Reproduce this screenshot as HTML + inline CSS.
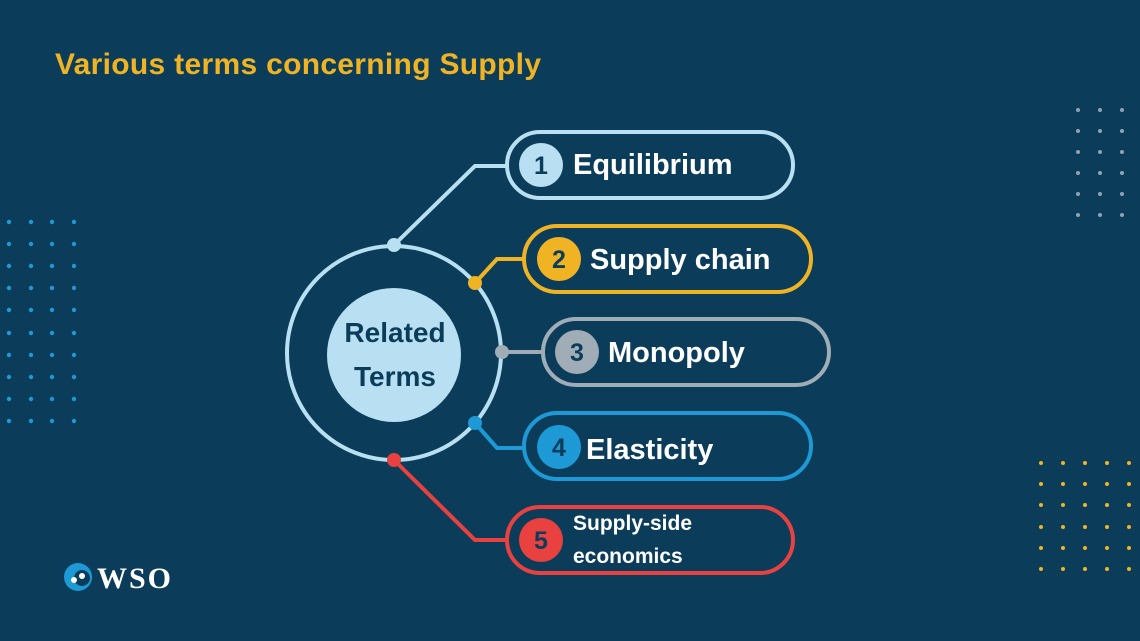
<!DOCTYPE html>
<html><head><meta charset="utf-8"><style>
html,body{margin:0;padding:0;}
body{width:1140px;height:641px;background:#0b3d5a;overflow:hidden;position:relative;font-family:"Liberation Sans",sans-serif;}
</style></head><body>
<svg width="1140" height="641" viewBox="0 0 1140 641" xmlns="http://www.w3.org/2000/svg" style="position:absolute;left:0;top:0">
<rect width="1140" height="641" fill="#0b3d5a"/>
<text x="55" y="74" font-family="Liberation Sans, sans-serif" font-weight="bold" font-size="30" fill="#f0b323" textLength="486">Various terms concerning Supply</text>
<!-- left dots -->
<g fill="#1d9ad6">
<circle cx="9" cy="222" r="2.2"/><circle cx="31" cy="222" r="2.2"/><circle cx="52" cy="222" r="2.2"/><circle cx="74" cy="222" r="2.2"/>
<circle cx="9" cy="244" r="2.2"/><circle cx="31" cy="244" r="2.2"/><circle cx="52" cy="244" r="2.2"/><circle cx="74" cy="244" r="2.2"/>
<circle cx="9" cy="266" r="2.2"/><circle cx="31" cy="266" r="2.2"/><circle cx="52" cy="266" r="2.2"/><circle cx="74" cy="266" r="2.2"/>
<circle cx="9" cy="288" r="2.2"/><circle cx="31" cy="288" r="2.2"/><circle cx="52" cy="288" r="2.2"/><circle cx="74" cy="288" r="2.2"/>
<circle cx="9" cy="310" r="2.2"/><circle cx="31" cy="310" r="2.2"/><circle cx="52" cy="310" r="2.2"/><circle cx="74" cy="310" r="2.2"/>
<circle cx="9" cy="333" r="2.2"/><circle cx="31" cy="333" r="2.2"/><circle cx="52" cy="333" r="2.2"/><circle cx="74" cy="333" r="2.2"/>
<circle cx="9" cy="355" r="2.2"/><circle cx="31" cy="355" r="2.2"/><circle cx="52" cy="355" r="2.2"/><circle cx="74" cy="355" r="2.2"/>
<circle cx="9" cy="377" r="2.2"/><circle cx="31" cy="377" r="2.2"/><circle cx="52" cy="377" r="2.2"/><circle cx="74" cy="377" r="2.2"/>
<circle cx="9" cy="399" r="2.2"/><circle cx="31" cy="399" r="2.2"/><circle cx="52" cy="399" r="2.2"/><circle cx="74" cy="399" r="2.2"/>
<circle cx="9" cy="421" r="2.2"/><circle cx="31" cy="421" r="2.2"/><circle cx="52" cy="421" r="2.2"/><circle cx="74" cy="421" r="2.2"/>
</g>
<!-- right top grey dots -->
<g fill="#8fa3b3">
<circle cx="1078" cy="110" r="2"/><circle cx="1100" cy="110" r="2"/><circle cx="1122" cy="110" r="2"/>
<circle cx="1078" cy="131" r="2"/><circle cx="1100" cy="131" r="2"/><circle cx="1122" cy="131" r="2"/>
<circle cx="1078" cy="152" r="2"/><circle cx="1100" cy="152" r="2"/><circle cx="1122" cy="152" r="2"/>
<circle cx="1078" cy="173" r="2"/><circle cx="1100" cy="173" r="2"/><circle cx="1122" cy="173" r="2"/>
<circle cx="1078" cy="194" r="2"/><circle cx="1100" cy="194" r="2"/><circle cx="1122" cy="194" r="2"/>
<circle cx="1078" cy="215" r="2"/><circle cx="1100" cy="215" r="2"/><circle cx="1122" cy="215" r="2"/>
</g>
<!-- right bottom yellow dots -->
<g fill="#f0b323">
<circle cx="1041" cy="463" r="2"/><circle cx="1063" cy="463" r="2"/><circle cx="1085" cy="463" r="2"/><circle cx="1107" cy="463" r="2"/><circle cx="1129" cy="463" r="2"/>
<circle cx="1041" cy="484" r="2"/><circle cx="1063" cy="484" r="2"/><circle cx="1085" cy="484" r="2"/><circle cx="1107" cy="484" r="2"/><circle cx="1129" cy="484" r="2"/>
<circle cx="1041" cy="505" r="2"/><circle cx="1063" cy="505" r="2"/><circle cx="1085" cy="505" r="2"/><circle cx="1107" cy="505" r="2"/><circle cx="1129" cy="505" r="2"/>
<circle cx="1041" cy="527" r="2"/><circle cx="1063" cy="527" r="2"/><circle cx="1085" cy="527" r="2"/><circle cx="1107" cy="527" r="2"/><circle cx="1129" cy="527" r="2"/>
<circle cx="1041" cy="548" r="2"/><circle cx="1063" cy="548" r="2"/><circle cx="1085" cy="548" r="2"/><circle cx="1107" cy="548" r="2"/><circle cx="1129" cy="548" r="2"/>
<circle cx="1041" cy="569" r="2"/><circle cx="1063" cy="569" r="2"/><circle cx="1085" cy="569" r="2"/><circle cx="1107" cy="569" r="2"/><circle cx="1129" cy="569" r="2"/>
</g>

<!-- main circle -->
<circle cx="394" cy="353" r="107" fill="none" stroke="#b8e0f2" stroke-width="4"/>
<circle cx="394" cy="355" r="67" fill="#b8e0f2"/>
<text x="395" y="342" text-anchor="middle" font-weight="bold" font-size="28" fill="#0b3d5a">Related</text>
<text x="395" y="386" text-anchor="middle" font-weight="bold" font-size="28" fill="#0b3d5a">Terms</text>

<!-- connectors -->
<g fill="none" stroke-width="4">
<polyline points="394,245 475,166 506,166" stroke="#b8e0f2"/>
<polyline points="475,283 497,259 523,259" stroke="#f0b323"/>
<polyline points="502,352 542,352" stroke="#a0adb6"/>
<polyline points="475,423 497,448 523,448" stroke="#1d9ad6"/>
<polyline points="394,460 475,540 506,540" stroke="#e8413f"/>
</g>
<circle cx="394" cy="245" r="7" fill="#b8e0f2"/>
<circle cx="475" cy="283" r="7" fill="#f0b323"/>
<circle cx="502" cy="352" r="7" fill="#a0adb6"/>
<circle cx="475" cy="423" r="7" fill="#1d9ad6"/>
<circle cx="394" cy="460" r="7" fill="#e8413f"/>

<!-- pills -->
<g fill="none" stroke-width="4">
<rect x="507" y="132" width="286" height="66" rx="33" stroke="#b8e0f2"/>
<rect x="524" y="226" width="287" height="66" rx="33" stroke="#f0b323"/>
<rect x="543" y="319" width="286" height="66" rx="33" stroke="#a0adb6"/>
<rect x="524" y="413" width="287" height="66" rx="33" stroke="#1d9ad6"/>
<rect x="507" y="507" width="286" height="66" rx="33" stroke="#e8413f"/>
</g>
<circle cx="541" cy="165" r="22" fill="#b8e0f2"/>
<circle cx="559" cy="259" r="22" fill="#f0b323"/>
<circle cx="577" cy="352" r="22" fill="#a0adb6"/>
<circle cx="559" cy="447" r="22" fill="#1d9ad6"/>
<circle cx="541" cy="540" r="22" fill="#e8413f"/>
<g font-weight="bold" font-size="25" fill="#0b3d5a" text-anchor="middle">
<text x="541" y="174">1</text>
<text x="559" y="268">2</text>
<text x="577" y="361">3</text>
<text x="559" y="456">4</text>
<text x="541" y="549">5</text>
</g>
<g font-weight="bold" font-size="29" fill="#ffffff">
<text x="573" y="174">Equilibrium</text>
<text x="590" y="269">Supply chain</text>
<text x="608" y="362">Monopoly</text>
<text x="586" y="459">Elasticity</text>
</g>
<g font-weight="bold" font-size="21" fill="#ffffff">
<text x="573" y="530">Supply-side</text>
<text x="573" y="563">economics</text>
</g>

<!-- logo -->
<circle cx="78" cy="577" r="14" fill="#1d9ad6"/>
<circle cx="82" cy="578" r="8" fill="#0b3d5a"/>
<circle cx="74" cy="580" r="3" fill="#ffffff"/>
<circle cx="82" cy="576" r="3" fill="#ffffff"/>
<text x="97" y="588" font-family="Liberation Serif, serif" font-weight="bold" font-size="30" fill="#ffffff" textLength="74">WSO</text>
</svg>
</body></html>
